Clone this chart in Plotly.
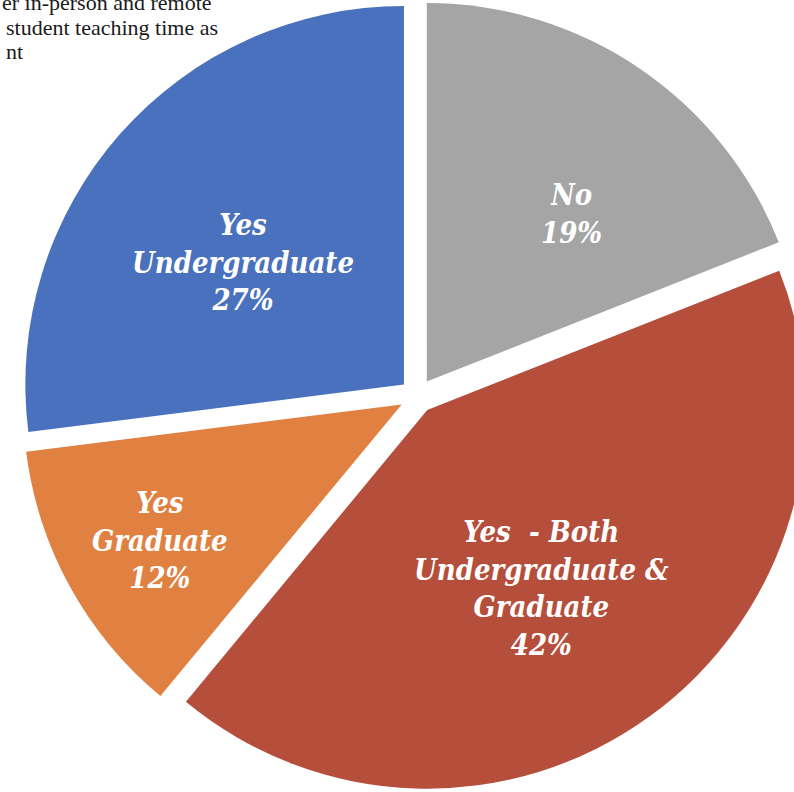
import plotly.graph_objects as go

# Survey responses, clockwise from 12 o'clock
labels = ["No", "Yes  - Both<br>Undergraduate &<br>Graduate", "Yes<br>Graduate", "Yes<br>Undergraduate"]
values = [19, 42, 12, 27]
colors = ["#A5A5A5", "#B54E3A", "#E08142", "#4A71BD"]

# Partial caption lines above the chart
caption_lines = ["er in-person and remote", "student teaching time as", "nt"]

W, H = 834, 792

fig = go.Figure(
    go.Pie(
        labels=labels,
        values=values,
        sort=False,
        direction="clockwise",
        rotation=0,
        pull=[0.046] * len(values),
        marker=dict(colors=colors, line=dict(width=0)),
        textinfo="none",
        hoverinfo="label+percent",
        showlegend=False,
    )
)

# Slice labels (centre positions in pixels)
label_pos = [(571, 214), (541, 588), (160, 540), (243, 262)]
for lab, val, (px, py) in zip(labels, values, label_pos):
    fig.add_annotation(
        x=px / W, y=1 - py / H, xref="paper", yref="paper",
        text=f"{lab}<br>{val}%", showarrow=False,
        font=dict(family="DejaVu Serif Condensed", size=29, color="white",
                  style="italic", weight="bold"),
        align="center", xanchor="center", yanchor="middle",
    )

# Caption fragment in the top-left corner
for i, line in enumerate(caption_lines):
    fig.add_annotation(
        x=(0 if i == 0 else 4) / W, y=1 - (17.5 + 24.5 * i) / H, xref="paper", yref="paper",
        text=line, showarrow=False, xanchor="left", yanchor="bottom",
        font=dict(family="Liberation Serif", size=22, color="#1a1a1a"),
    )

fig.update_layout(
    width=W, height=H, autosize=False,
    margin=dict(l=0, r=0, t=0, b=0),
    paper_bgcolor="white", plot_bgcolor="white",
)

fig.write_html("out.html")
